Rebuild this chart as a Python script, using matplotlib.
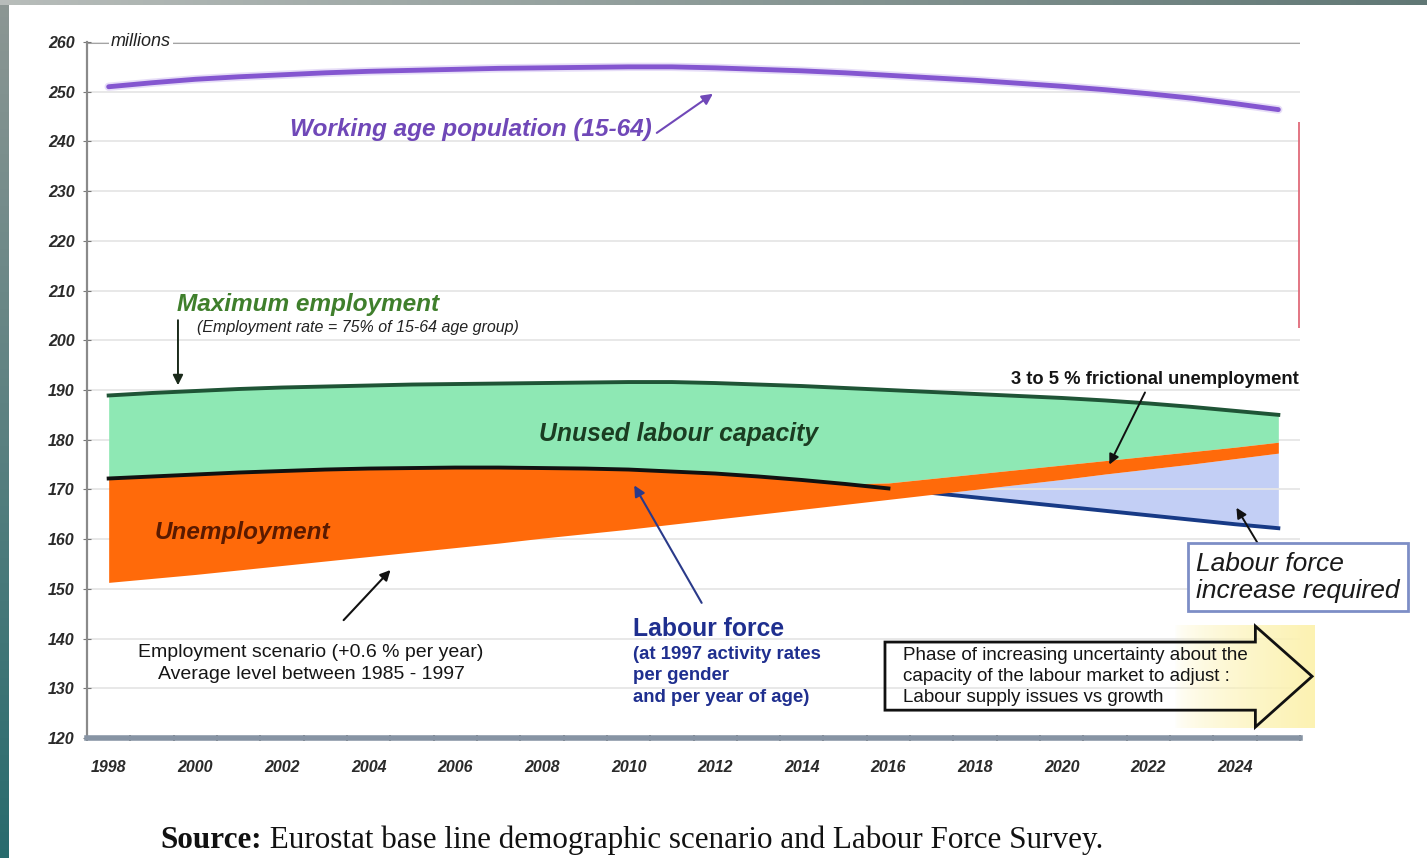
import numpy as np
import matplotlib.pyplot as plt
from matplotlib.patches import Polygon

plt.rcParams['font.family'] = ['Liberation Sans', 'DejaVu Sans']

# projection years, 1998 to 2025
years = np.arange(1998, 2026)

# working age population (15-64), millions
working_age = np.array([251.0, 251.8, 252.5, 253.0, 253.4, 253.8, 254.1, 254.3, 254.5, 254.7,
                        254.8, 254.9, 255.0, 255.0, 254.8, 254.5, 254.2, 253.8, 253.3, 252.8,
                        252.3, 251.7, 251.1, 250.4, 249.6, 248.7, 247.6, 246.4])

# maximum employment (75% employment rate)
max_employment = np.array([188.9, 189.4, 189.8, 190.2, 190.5, 190.7, 190.9, 191.1, 191.2, 191.3,
                           191.4, 191.5, 191.6, 191.6, 191.4, 191.1, 190.8, 190.4, 190.0, 189.6,
                           189.2, 188.8, 188.4, 187.9, 187.3, 186.6, 185.8, 185.0])

# labour force at 1997 activity rates
labour_force = np.array([172.2, 172.6, 173.0, 173.4, 173.7, 174.0, 174.2, 174.3, 174.4, 174.4,
                         174.3, 174.2, 174.0, 173.6, 173.2, 172.6, 171.9, 171.1, 170.2, 169.3,
                         168.4, 167.5, 166.6, 165.7, 164.8, 163.9, 163.0, 162.2])

# employment scenario (+0.6 % per year)
employment = np.array([151.3, 152.1, 152.9, 153.8, 154.7, 155.6, 156.5, 157.4, 158.3, 159.2,
                       160.2, 161.1, 162.0, 163.0, 164.0, 165.0, 166.0, 167.0, 168.0, 169.0,
                       170.0, 171.0, 172.0, 173.1, 174.1, 175.1, 176.2, 177.3])

# employment plus 3-5 % frictional unemployment, 2014-2025
frictional = np.array([169.5, 170.4, 171.3, 172.2, 173.1, 174.0, 174.9, 175.8, 176.7, 177.6,
                       178.5, 179.5])

y_ticks = list(range(120, 261, 10))
x_labels = list(range(1998, 2025, 2))

unemp_top = labour_force.copy()
unemp_top[-len(frictional):] = np.maximum(labour_force[-len(frictional):], frictional)

fig = plt.figure(figsize=(14.27, 8.58), dpi=100)

# slide frame: teal strip on the left, grey strip on top
bg = fig.add_axes([0, 0, 1, 1], zorder=-5)
bg.axis('off')
side = np.linspace(0, 1, 100)[:, None, None]
c_top = np.array([0.55, 0.59, 0.58])
c_bot = np.array([0.16, 0.42, 0.43])
bg.imshow(c_top + (c_bot - c_top) * side, extent=(0, 9, 858, 0), aspect='auto')
top = np.linspace(0, 1, 200)[None, :, None]
t_left = np.array([0.72, 0.74, 0.73])
t_right = np.array([0.38, 0.47, 0.46])
bg.imshow(t_left + (t_right - t_left) * top, extent=(0, 1427, 5, 0), aspect='auto')
bg.set_xlim(0, 1427)
bg.set_ylim(858, 0)

ax = fig.add_axes([87 / 1427, 1 - 738 / 858, (1300 - 87) / 1427, (738 - 42) / 858])
ax.patch.set_alpha(0)

# filled bands
ax.fill_between(years, unemp_top, max_employment, color='#8ee8b4', lw=0, zorder=2)
ax.fill_between(years, employment, unemp_top, color='#ff6a0a', lw=0, zorder=2)
ax.fill_between(years, labour_force, employment, where=employment > labour_force,
                interpolate=True, color='#c3cff5', lw=0, zorder=1.4)

# lines
ax.plot(years, working_age, color='#c8b4ee', lw=6, alpha=0.45, zorder=3, solid_capstyle='round')
ax.plot(years, working_age, color='#8456d0', lw=3.5, zorder=3.1, solid_capstyle='round')
ax.plot(years, max_employment, color='#1f5436', lw=2.8, zorder=3)
split = list(years).index(2016)
ax.plot(years[:split + 1], labour_force[:split + 1], color='#111111', lw=2.8, zorder=3)
ax.plot(years[split:], labour_force[split:], color='#173a86', lw=2.8, zorder=1.5)

ax.vlines(2025.48, 202.5, 243.9, color='#e06a7a', lw=1.3, zorder=2)

# axes styling
ax.set_xlim(1997.5, 2025.5)
ax.set_ylim(120, 260)
ax.set_yticks(y_ticks)
ax.set_xticks(x_labels)
ax.set_xticks(np.arange(1997.5, 2026, 1), minor=True)
ax.grid(axis='y', color='#e6e6e6', lw=1.3, zorder=0)
ax.axhline(260, color='#a4a4a4', lw=2.2, zorder=1)
for s in ['top', 'right']:
    ax.spines[s].set_visible(False)
ax.spines['left'].set_color('#8a8a8a')
ax.spines['left'].set_linewidth(1.6)
ax.spines['bottom'].set_color('#8794a4')
ax.spines['bottom'].set_linewidth(4)
ax.tick_params(axis='y', direction='inout', length=6, color='#777777', pad=6)
ax.tick_params(axis='x', which='major', length=0, pad=16)
ax.tick_params(axis='x', which='minor', direction='inout', length=5, color='#555555', width=1.2)
for lab in ax.get_xticklabels() + ax.get_yticklabels():
    lab.set_fontsize(11.5)
    lab.set_fontweight('bold')
    lab.set_fontstyle('italic')
    lab.set_color('#2a2a2a')

# labels
ax.text(1998.05, 260, 'millions', fontsize=13, style='italic', color='#222222',
        va='center', ha='left', zorder=4,
        bbox=dict(boxstyle='square,pad=0.1', fc='white', ec='none'))

ax.text(2002.18, 242.3, 'Working age population (15-64)', fontsize=17.6, fontweight='bold',
        style='italic', color='#7048b8', va='center', ha='left', zorder=5)
ax.annotate('', xy=(2012.0, 249.9), xytext=(2010.6, 241.4),
            arrowprops=dict(arrowstyle='-|>', color='#7048b8', lw=1.5, mutation_scale=16), zorder=5)

ax.text(1999.57, 207.1, 'Maximum employment', fontsize=17.6, fontweight='bold', style='italic',
        color='#3f7f2c', va='center', ha='left', zorder=5)
ax.text(2000.03, 202.5, '(Employment rate = 75% of 15-64 age group)', fontsize=11.5,
        style='italic', color='#222222', va='center', ha='left', zorder=5)
ax.annotate('', xy=(1999.6, 190.4), xytext=(1999.6, 204.6),
            arrowprops=dict(arrowstyle='-|>', color='#1a2a1a', lw=1.4, mutation_scale=15), zorder=5)

ax.text(2011.16, 181.1, 'Unused labour capacity', fontsize=17.8, fontweight='bold',
        style='italic', color='#1b3d22', va='center', ha='center', zorder=5)
ax.text(1999.06, 161.4, 'Unemployment', fontsize=17.5, fontweight='bold', style='italic',
        color='#5a1a00', va='center', ha='left', zorder=5)

ax.text(2025.46, 192.2, '3 to 5 % frictional unemployment', fontsize=13.2, fontweight='bold',
        color='#151515', va='center', ha='right', zorder=5)
ax.annotate('', xy=(2021.07, 174.5), xytext=(2021.95, 190.0),
            arrowprops=dict(arrowstyle='-|>', color='#111111', lw=1.4, mutation_scale=15), zorder=5)

ax.text(2002.67, 135.0, 'Employment scenario (+0.6 % per year)\nAverage level between 1985 - 1997',
        fontsize=14, color='#151515', va='center', ha='center', linespacing=1.45, zorder=5)
ax.annotate('', xy=(2004.55, 154.2), xytext=(2003.38, 143.3),
            arrowprops=dict(arrowstyle='-|>', color='#111111', lw=1.5, mutation_scale=15), zorder=5)

ax.text(2010.1, 141.9, 'Labour force', fontsize=17.8, fontweight='bold', color='#1f2f8f',
        va='center', ha='left', zorder=5)
ax.text(2010.1, 138.6, '(at 1997 activity rates\nper gender\nand per year of age)', fontsize=13.4,
        fontweight='bold', color='#1f2f8f', va='top', ha='left', linespacing=1.36, zorder=5)
ax.annotate('', xy=(2010.1, 171.3), xytext=(2011.72, 146.7),
            arrowprops=dict(arrowstyle='-|>', color='#2a3a8a', lw=1.5, mutation_scale=16), zorder=5)

ax.text(2023.1, 152.3, 'Labour force\nincrease required', fontsize=19, style='italic',
        color='#1a1a1a', va='center', ha='left', linespacing=1.17, zorder=6,
        bbox=dict(boxstyle='square,pad=0.32', fc='white', ec='#7d8ec6', lw=2))
ax.annotate('', xy=(2024.0, 166.8), xytext=(2024.55, 158.8),
            arrowprops=dict(arrowstyle='-|>', color='#111111', lw=1.4, mutation_scale=15), zorder=5)

# yellow glow behind the arrow head
glow = np.zeros((1, 100, 4))
glow[..., 0] = 0.99
glow[..., 1] = 0.95
glow[..., 2] = 0.70
glow[..., 3] = np.linspace(0, 1, 100) ** 0.6
ax.imshow(glow, extent=(2022.6, 2025.85, 122.0, 142.7), aspect='auto', zorder=3, clip_on=False)

# phase arrow
phase = Polygon([(2015.92, 139.3), (2024.47, 139.3), (2024.47, 142.5), (2025.78, 132.4),
                 (2024.47, 122.2), (2024.47, 125.6), (2015.92, 125.6)],
                closed=True, fc='none', ec='#111111', lw=2, zorder=4, clip_on=False)
ax.add_patch(phase)
ax.text(2016.34, 132.4, 'Phase of increasing uncertainty about the\ncapacity of the labour market to adjust :\n'
        'Labour supply issues vs growth', fontsize=13.5, color='#151515', va='center', ha='left',
        linespacing=1.3, zorder=5)

ax.set_xlim(1997.5, 2025.5)
ax.set_ylim(120, 260)

src = fig.text(160 / 1427, 1 - 840 / 858, 'Source:', fontsize=22.4, fontweight='bold',
               family='Liberation Serif', va='center', ha='left', color='#111111')
ax.annotate(' Eurostat base line demographic scenario and Labour Force Survey.',
            xy=(1, 0.5), xycoords=src, va='center', ha='left', fontsize=22.4,
            family='Liberation Serif', color='#111111')

fig.savefig('out.png', dpi=100)
